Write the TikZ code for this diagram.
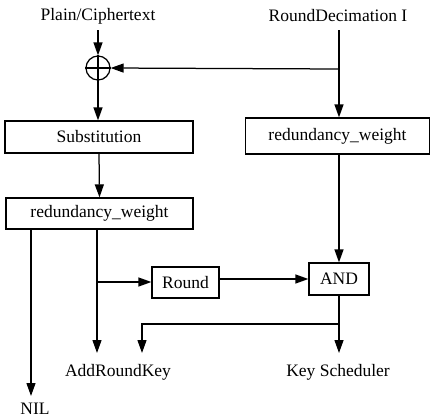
\documentclass[tikz,border=0pt]{standalone}
\usepackage{fontspec}
\setmainfont{Liberation Serif}
\usetikzlibrary{arrows.meta}
\begin{document}
\begin{tikzpicture}[x=1pt,y=-1pt,
  line width=1.25pt,
  font=\fontsize{17.5}{20}\selectfont,
  arr/.style={-{Triangle[length=13pt,width=9pt]}},
  blk/.style={draw,rectangle,inner sep=0pt,anchor=center},
  lbl/.style={inner sep=0pt,anchor=center}]
\useasboundingbox (0,0) rectangle (431,418);
% labels
\node[lbl] (pt) at (98,16) {Plain/Ciphertext};
\node[lbl] (rd) at (338,16) {RoundDecimation I};
\coordinate (ptb) at (98,30);
\coordinate (rdb) at (339,30);
% xor
\node[draw,circle,minimum size=24pt,inner sep=0pt] (xor) at (98,68) {};
\draw (xor.north) -- (xor.south);
\draw (xor.west) -- (xor.east);
% boxes
\node[blk,minimum width=188pt,minimum height=32pt] (sub) at (99,137) {Substitution};
\node[blk,minimum width=184pt,minimum height=36pt] (rwr) at (337.5,136) {redundancy\_weight};
\node[blk,minimum width=187pt,minimum height=31pt] (rwl) at (99.5,213.5) {redundancy\_weight};
\node[blk,minimum width=67pt,minimum height=31pt] (round) at (185.5,282.5) {Round};
\node[blk,minimum width=60pt,minimum height=32pt] (and) at (339,279) {AND};
% bottom labels
\node[lbl] (ark) at (118,372) {AddRoundKey};
\node[lbl] (ks) at (338,372) {Key Scheduler};
\node[lbl] (nil) at (35,409) {NIL};
% coordinates
\coordinate (rdj) at (339,69);
\coordinate (l1) at (31,229);
\coordinate (l1e) at (31,396);
\coordinate (l2) at (97,229);
\coordinate (l2j) at (97,282);
\coordinate (l2e) at (97,353);
\coordinate (aj) at (339,324);
\coordinate (ak) at (142,324);
\coordinate (ake) at (142,353);
\coordinate (kse) at (339,353);
% connectors
\draw[arr] (ptb) -- (xor.north);
\draw[arr] (xor.south) -- (sub.north -| xor.south);
\draw[arr] (rdb) -- (rwr.north -| rdb);
\draw[arr] (rdj) -- (xor.east);
\draw[arr] (sub.south) -- (rwl.north);
\draw[arr] (rwr.south -| rdb) -- (and.north);
\draw[arr] (l1) -- (l1e);
\draw[arr] (l2) -- (l2e);
\draw[arr] (l2j) -- (round.west |- l2j);
\draw[arr] (round.east |- 0,279) -- (and.west);
\draw[arr] (and.south) -- (kse);
\draw[arr] (aj) -- (ak) -- (ake);
\end{tikzpicture}
\end{document}
